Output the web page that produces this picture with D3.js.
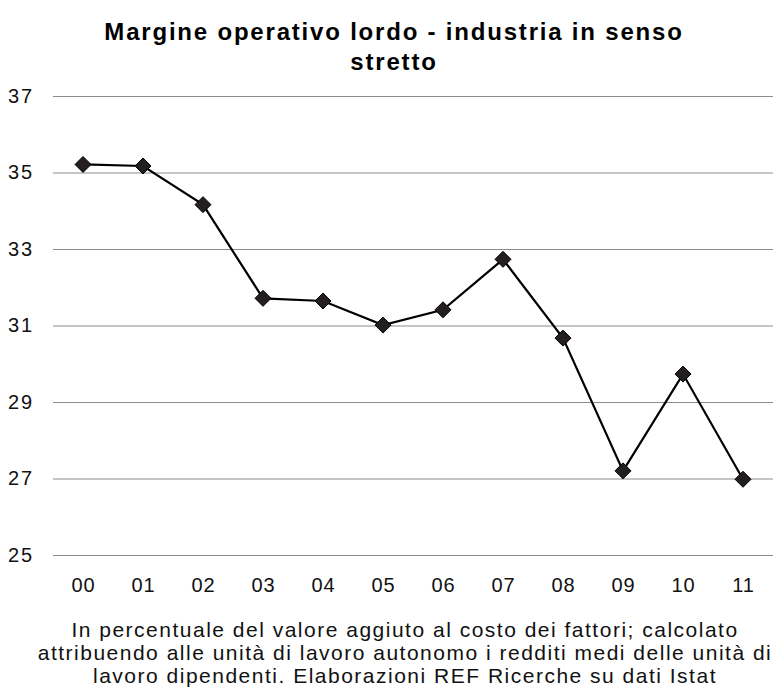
<!DOCTYPE html>
<html>
<head>
<meta charset="utf-8">
<script src="https://cdn.jsdelivr.net/npm/d3@7"></script>
<style>
  body { margin: 0; background: #fff; }
  svg { display: block; font-family: "Liberation Sans", Arial, sans-serif; }
</style>
</head>
<body>
<div id="chart"></div>
<script>
var years = ["00", "01", "02", "03", "04", "05", "06", "07", "08", "09", "10", "11"];
var values = [35.21, 35.17, 34.16, 31.71, 31.64, 31.01, 31.41, 32.73, 30.67, 27.2, 29.73, 26.98];
var yTicks = [25, 27, 29, 31, 33, 35, 37];
var titleLines = ["Margine operativo lordo - industria in senso", "stretto"];
var noteLines = [
  "In percentuale del valore aggiuto al costo dei fattori; calcolato",
  "attribuendo alle unità di lavoro autonomo i redditi medi delle unità di",
  "lavoro dipendenti. Elaborazioni REF Ricerche su dati Istat"
];

var width = 775, height = 693;
var plotLeft = 53, plotRight = 773, plotTop = 96, plotBottom = 555;

var svg = d3.select("#chart").append("svg")
  .attr("width", width)
  .attr("height", height);

var x = d3.scalePoint()
  .domain(years)
  .range([plotLeft, plotRight])
  .padding(0.5);

var y = d3.scaleLinear()
  .domain([25, 37])
  .range([plotBottom, plotTop]);

// title
svg.append("g").selectAll("text")
  .data(titleLines)
  .enter().append("text")
  .attr("x", 394)
  .attr("y", function(d, i) { return 40 + i * 30; })
  .attr("text-anchor", "middle")
  .style("font-size", "24px")
  .style("font-weight", "bold")
  .style("letter-spacing", "1.8px")
  .text(function(d) { return d; });

// gridlines + y labels
var yAxis = d3.axisLeft(y)
  .tickValues(yTicks)
  .tickSize(-(plotRight - plotLeft));

var gy = svg.append("g")
  .attr("transform", "translate(" + plotLeft + ",0)")
  .call(yAxis);
gy.select(".domain").remove();
gy.selectAll(".tick line").attr("stroke", "#8c8c8c").attr("stroke-width", 1.2);
gy.selectAll(".tick text")
  .attr("text-anchor", "start")
  .attr("x", -45)
  .style("font-size", "20px")
  .style("letter-spacing", "1.8px")
  .style("font-family", "Liberation Sans, Arial, sans-serif")
  .attr("fill", "#111");

// x labels
var xAxis = d3.axisBottom(x).tickSize(0).tickPadding(23);
var gx = svg.append("g")
  .attr("transform", "translate(0," + plotBottom + ")")
  .call(xAxis);
gx.select(".domain").remove();
gx.selectAll(".tick text")
  .style("font-size", "20px")
  .style("letter-spacing", "1px")
  .style("font-family", "Liberation Sans, Arial, sans-serif")
  .attr("fill", "#111");

// line
var line = d3.line()
  .x(function(d, i) { return x(years[i]); })
  .y(function(d) { return y(d); });

svg.append("path")
  .datum(values)
  .attr("d", line)
  .attr("fill", "none")
  .attr("stroke", "#000")
  .attr("stroke-width", 2.2);

// diamond markers
svg.append("g").selectAll("path")
  .data(values)
  .enter().append("path")
  .attr("d", "M0,-8L8,0L0,8L-8,0Z")
  .attr("transform", function(d, i) { return "translate(" + x(years[i]) + "," + y(d) + ")"; })
  .attr("fill", "#231f20")
  .attr("stroke", "#000")
  .attr("stroke-width", 1);

// note
svg.append("g").selectAll("text")
  .data(noteLines)
  .enter().append("text")
  .attr("x", 405)
  .attr("y", function(d, i) { return 637 + i * 23; })
  .attr("text-anchor", "middle")
  .style("font-size", "21px")
  .style("letter-spacing", "1.5px")
  .attr("fill", "#111")
  .text(function(d) { return d; });
</script>
</body>
</html>
